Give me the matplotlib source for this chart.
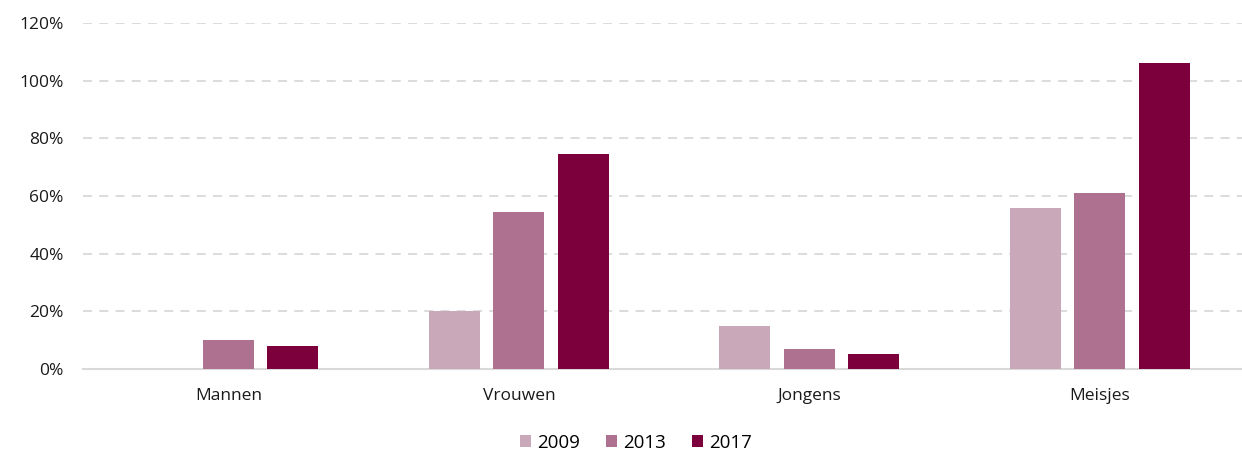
import numpy as np
import matplotlib.pyplot as plt
from matplotlib.ticker import PercentFormatter

plt.rcParams['font.family'] = ['Open Sans', 'DejaVu Sans']

categories = ["Mannen", "Vrouwen", "Jongens", "Meisjes"]
years = ["2009", "2013", "2017"]
v2009 = [0, 20, 15, 56]
v2013 = [10, 54.5, 7, 61]
v2017 = [8, 74.5, 5.2, 106]
colors = ["#C9A9B9", "#AE7290", "#7C003C"]

series = [v2009, v2013, v2017]

fig = plt.figure(figsize=(12.42, 4.53), dpi=100)
ax = fig.add_axes([0.067, 0.1854, 0.933, 0.7638])

x = np.arange(len(categories))
pitch = 0.222
width = 0.176
for i, (vals, year, c) in enumerate(zip(series, years, colors)):
    ax.bar(x + (i - 1) * pitch, vals, width, color=c, label=year, zorder=3)

ax.set_xlim(-0.5, 3.49)
ax.set_ylim(0, 120)
ax.set_yticks(np.arange(0, 121, 20))
ax.yaxis.set_major_formatter(PercentFormatter(decimals=0))
ax.set_xticks(x)
ax.set_xticklabels(categories)
ax.tick_params(axis='both', length=0, labelsize=12.5, colors="#1a1a1a")
ax.tick_params(axis='y', pad=14)
ax.tick_params(axis='x', pad=14)

ax.grid(axis='y', color="#D9D9D9", linestyle=(0, (5, 4)), linewidth=1.3, zorder=0)
for s in ["top", "right", "left"]:
    ax.spines[s].set_visible(False)
ax.spines["bottom"].set_color("#D9D9D9")
ax.spines["bottom"].set_linewidth(1.5)

fig.legend(loc="lower center", bbox_to_anchor=(0.512, -0.035), ncol=3, frameon=False,
           fontsize=13.5, handlelength=0.6, handleheight=0.6, handletextpad=0.3,
           columnspacing=1.4)

fig.savefig("out.png", dpi=100)
